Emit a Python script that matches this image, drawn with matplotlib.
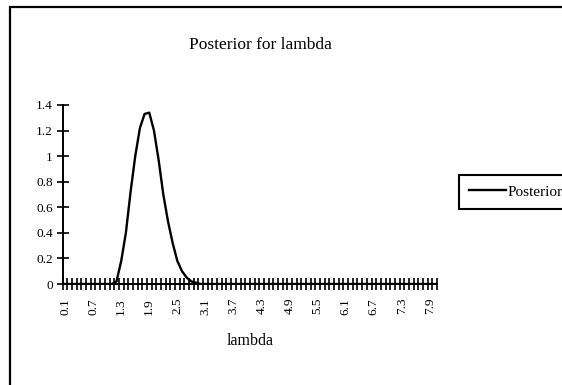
import numpy as np
import matplotlib.pyplot as plt
from matplotlib.patches import Rectangle

# lambda grid 0.1 .. 8.0 (Excel category axis)
lam = [round(0.1 * i, 1) for i in range(1, 81)]
# posterior density, only the non-zero part
bump = {1.2: 0.02, 1.3: 0.18, 1.4: 0.4, 1.5: 0.72, 1.6: 1.0, 1.7: 1.22,
        1.8: 1.33, 1.9: 1.34, 2.0: 1.2, 2.1: 0.97, 2.2: 0.7, 2.3: 0.49,
        2.4: 0.32, 2.5: 0.18, 2.6: 0.1, 2.7: 0.05, 2.8: 0.02, 2.9: 0.01}
posterior = [bump.get(v, 0.0) for v in lam]
yticks = [0, 0.2, 0.4, 0.6, 0.8, 1, 1.2, 1.4]
ytick_labels = ['0', '0.2', '0.4', '0.6', '0.8', '1', '1.2', '1.4']

plt.rcParams['font.family'] = ['Liberation Serif', 'DejaVu Serif']

fig = plt.figure(figsize=(5.62, 3.85), dpi=100)
ax = fig.add_axes([0.1116, 0.2623, 0.666, 0.465])

x = np.arange(len(lam))
ax.plot(x, posterior, color='black', lw=1.7, label='Posterior')

ax.set_xlim(-0.5, len(lam) - 0.5)
ax.set_ylim(0, 1.4)

# category labels every 6th, tick marks at every category boundary
ax.set_xticks(x[::6])
ax.set_xticklabels([f'{v:.1f}' for v in lam[::6]], rotation=90, fontsize=9.5)
ax.set_xticks(np.arange(-0.5, len(lam)), minor=True)
ax.tick_params(axis='x', which='major', length=0, pad=10)
ax.tick_params(axis='x', which='minor', direction='inout', length=8, width=1.2)

ax.set_yticks(yticks)
ax.set_yticklabels(ytick_labels, fontsize=9.5)
ax.tick_params(axis='y', direction='inout', length=8, width=1.2, pad=3)

for s in ['top', 'right']:
    ax.spines[s].set_visible(False)
for s in ['left', 'bottom']:
    ax.spines[s].set_linewidth(1.4)

ax.set_xlabel('lambda', fontsize=11.5, labelpad=13)
fig.text(260 / 562, 1 - 45 / 385, 'Posterior for lambda', fontsize=12.5,
         ha='center', va='center')

leg = ax.legend(loc='center left', bbox_to_anchor=(459 / 562, 1 - 192 / 385),
                bbox_transform=fig.transFigure, frameon=True, fancybox=False,
                edgecolor='black', framealpha=1, fontsize=11, borderpad=0.65,
                handlelength=2.4, handletextpad=0.15, borderaxespad=0)
leg.get_frame().set_linewidth(1.5)

# outer chart frame (left and top edges visible)
fig.patches.append(Rectangle((9.5 / 562, -0.1), 1.2, 1 - 7.5 / 385 + 0.1,
                             transform=fig.transFigure, fill=False,
                             edgecolor='black', lw=1.6))

fig.savefig('out.png', dpi=100)
